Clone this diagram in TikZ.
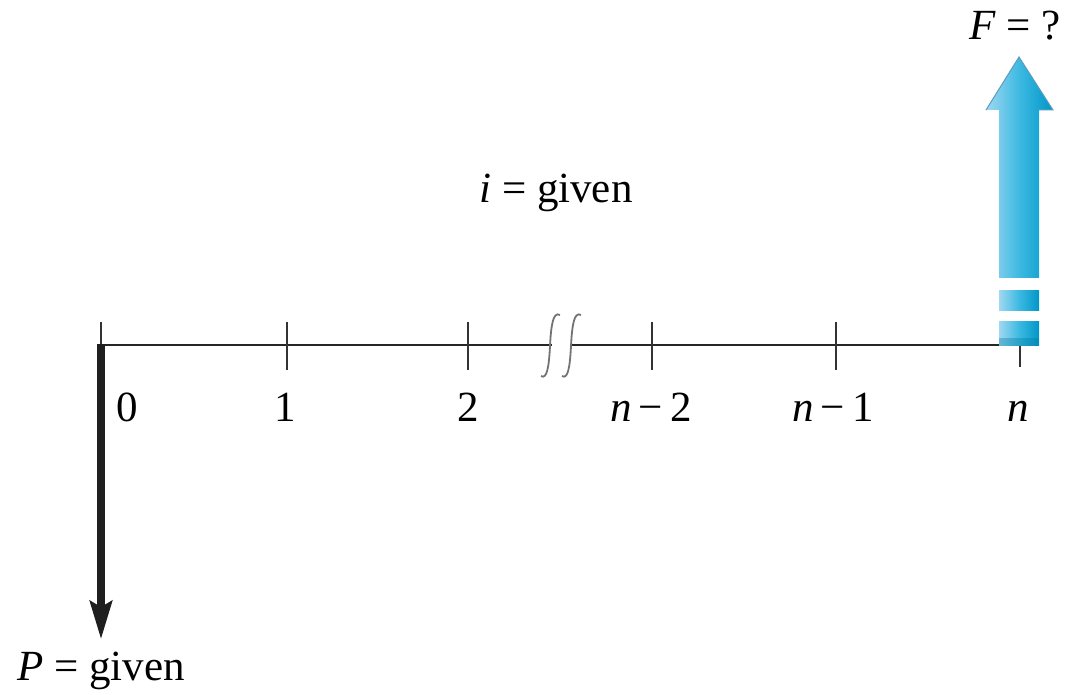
\documentclass[tikz,border=0pt]{standalone}
\usepackage{fontspec}
\setmainfont{Liberation Serif}
\usetikzlibrary{arrows.meta}
\definecolor{blueL}{RGB}{160,216,242}
\definecolor{blueM}{RGB}{60,185,225}
\definecolor{blueD}{RGB}{0,150,200}
\definecolor{blueE}{RGB}{20,115,160}
\begin{document}
\begin{tikzpicture}[x=0.5pt,y=-0.5pt,
  lbl/.style={font=\fontsize{21.5}{26}\selectfont, inner sep=0pt, anchor=base},
  axisline/.style={line width=1pt, black!85},
  tickline/.style={line width=1pt, black!80},
  breakmark/.style={line width=0.9pt, black!55},
  bluefill/.style={left color=blueL, right color=blueD, middle color=blueM, shading angle=90},
  cashout/.style={line width=3.6pt, black!88, -{Stealth[length=19pt,width=11pt,inset=3pt]}}]
\useasboundingbox (0,0) rectangle (1066,695);
% timeline points
\coordinate (t0) at (101,345);
\coordinate (t1) at (287,345);
\coordinate (t2) at (468,345);
\coordinate (t3) at (652,345);
\coordinate (t4) at (836,345);
\coordinate (t5) at (1020,345);
\coordinate (b1) at (552,345);
\coordinate (b2) at (572,345);
\coordinate (tend) at (1000,345);
% axis
\draw[axisline] (t0) -- (b1);
\draw[axisline] (b2) -- (tend);
% ticks
\draw[tickline] ([yshift=11.5pt]t0) -- (t0);
\foreach \t in {t1,t2,t3,t4}{
  \draw[tickline] ([yshift=11.5pt]\t) -- ([yshift=-12.5pt]\t);
}
\draw[tickline] (t5) -- ([yshift=-11pt]t5);
% break marks
\draw[breakmark] (541,376) .. controls (547,380) and (549,366) .. (550,346) .. controls (551,326) and (553,311) .. (560,315);
\draw[breakmark] (562,376) .. controls (568,380) and (570,366) .. (571,346) .. controls (572,326) and (574,311) .. (581,315);
% labels
\node[lbl] (l0) at (127,422) {0};
\node[lbl] (l1) at (285,422) {1};
\node[lbl] (l2) at (468,422) {2};
\node[lbl] (l3) at (651,422) {\textit{n}\,−\,2};
\node[lbl] (l4) at (833,422) {\textit{n}\,−\,1};
\node[lbl] (l5) at (1018,422) {\textit{n}};
\node[lbl] (rate) at (556,203) {\textit{i} = given};
\node[lbl] (F) at (1015,40) {\textit{F} = ?};
\node[lbl] (P) at (101,680) {\textit{P} = given};
% P arrow
\draw[cashout] ([yshift=0.4pt]t0) -- ([yshift=6pt]P.north);
% F arrow (blue, broken)
\shade[bluefill] (999,110) -- (986,110) -- (1019,57) -- (1053,110) -- (1039,110) -- (1039,278) -- (999,278) -- cycle;
\draw[blueE!70, line width=0.5pt] (986,110) -- (1019,57) -- (1053,110) -- (1039,110);
\shade[bluefill] (999,291) rectangle (1039,311);
\shade[bluefill] (999,322) rectangle (1039,346);
\fill[blueD!80!black, opacity=0.35] (999,338) rectangle (1039,346);
\coordinate (Ftail) at (1019,346);
\end{tikzpicture}
\end{document}
